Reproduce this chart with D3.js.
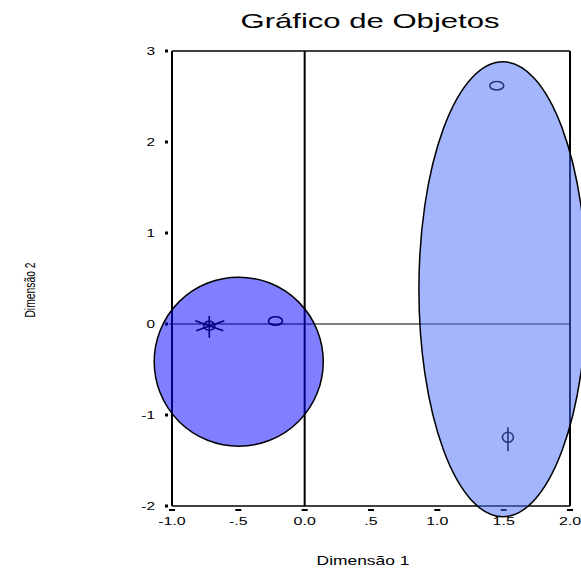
<!DOCTYPE html>
<html>
<head>
<meta charset="utf-8">
<script src="https://cdn.jsdelivr.net/npm/d3@7"></script>
<style>
  html, body { margin: 0; padding: 0; background: #fff; }
  svg { display: block; }
  text { font-family: "Liberation Sans", Arial, sans-serif; fill: #000; }
</style>
</head>
<body>
<svg id="chart" width="581" height="570"></svg>
<script>
// Object scores on the two dimensions
const pointX = [1.448, 1.532, -0.719, -0.22];
const pointY = [2.618, -1.245, -0.02, 0.033];
const pointSymbol = ["O", "phi", "star", "O"];

// Group regions (centre and radii, in dimension units)
const groupCx = [-0.497, 1.494];
const groupCy = [-0.414, 0.382];
const groupRx = [0.637, 0.633];
const groupRy = [0.929, 2.5];
const groupFill = ["rgb(0,0,255)", "rgb(70,108,252)"];

const xTicks = [-1.0, -0.5, 0.0, 0.5, 1.0, 1.5, 2.0];
const xTickLabels = ["-1.0", "-.5", "0.0", ".5", "1.0", "1.5", "2.0"];
const yTicks = [3, 2, 1, 0, -1, -2];
const yTickLabels = ["3", "2", "1", "0", "-1", "-2"];

const svg = d3.select("#chart");

const x = d3.scaleLinear().domain([-1, 2]).range([172, 570]);
const y = d3.scaleLinear().domain([-2, 3]).range([506, 51]);

// Text with horizontally widened (or narrowed) glyphs
function wideText(parent, tx, ty, str, size, sx, anchor, rot) {
  return parent.append("text")
    .attr("transform", `translate(${tx},${ty})` + (rot ? ` rotate(${rot})` : "") + ` scale(${sx},1)`)
    .attr("text-anchor", anchor)
    .style("font-size", size + "px")
    .text(str);
}

// Title
wideText(svg, 370, 28, "Gráfico de Objetos", 21, 1.48, "middle");

// Axis titles
wideText(svg, 363, 565, "Dimensão 1", 12, 1.45, "middle");
wideText(svg, 35, 290, "Dimensão 2", 14, 0.74, "middle", -90);

// Frame
const g = svg.append("g");
g.append("line").attr("x1", x(-1)).attr("x2", x(2)).attr("y1", y(3)).attr("y2", y(3))
  .attr("stroke", "#000").attr("stroke-width", 1.5);
g.append("line").attr("x1", x(-1)).attr("x2", x(2)).attr("y1", y(-2)).attr("y2", y(-2))
  .attr("stroke", "#000").attr("stroke-width", 1.5);
g.append("line").attr("x1", x(-1)).attr("x2", x(-1)).attr("y1", y(3)).attr("y2", y(-2))
  .attr("stroke", "#000").attr("stroke-width", 2);
g.append("line").attr("x1", x(2)).attr("x2", x(2)).attr("y1", y(3)).attr("y2", y(-2))
  .attr("stroke", "#000").attr("stroke-width", 2);

// Reference lines at zero
g.append("line").attr("x1", x(0)).attr("x2", x(0)).attr("y1", y(3)).attr("y2", y(-2))
  .attr("stroke", "#000").attr("stroke-width", 2);
g.append("line").attr("x1", x(-1) - 3).attr("x2", x(2)).attr("y1", y(0)).attr("y2", y(0))
  .attr("stroke", "#000").attr("stroke-width", 1);

// Y ticks: small squares left of the frame
g.selectAll(".ytick").data(yTicks).join("rect")
  .attr("x", x(-1) - 7).attr("y", d => y(d) - 1.5)
  .attr("width", 3).attr("height", 3).attr("fill", "#000");
yTicks.forEach((d, i) => wideText(g, x(-1) - 17, y(d) + 4, yTickLabels[i], 11, 1.4, "end"));

// X ticks: short dashes below the frame
g.selectAll(".xtick").data(xTicks).join("rect")
  .attr("x", d => x(d) - 3).attr("y", y(-2) + 3)
  .attr("width", 6).attr("height", 2).attr("fill", "#000");
xTicks.forEach((d, i) => wideText(g, x(d), y(-2) + 19, xTickLabels[i], 11, 1.45, "middle"));

// Point symbols
const pts = g.selectAll(".pt").data(pointX.map((v, i) => ({x: v, y: pointY[i], s: pointSymbol[i]})))
  .join("g")
  .attr("transform", d => `translate(${x(d.x)},${y(d.y)})`);

pts.each(function(d) {
  const p = d3.select(this);
  if (d.s === "O") {
    p.append("ellipse").attr("rx", 7).attr("ry", 4.2)
      .attr("fill", "none").attr("stroke", "#000").attr("stroke-width", 1.6);
  } else if (d.s === "phi") {
    p.append("ellipse").attr("rx", 5.5).attr("ry", 5)
      .attr("fill", "none").attr("stroke", "#000").attr("stroke-width", 1.6);
    p.append("line").attr("x1", 0).attr("x2", 0).attr("y1", -10).attr("y2", 14)
      .attr("stroke", "#000").attr("stroke-width", 1.6);
  } else if (d.s === "star") {
    p.append("ellipse").attr("rx", 5.5).attr("ry", 4.5)
      .attr("fill", "none").attr("stroke", "#000").attr("stroke-width", 1.6);
    p.append("line").attr("x1", 0).attr("x2", 0).attr("y1", -10).attr("y2", 12)
      .attr("stroke", "#000").attr("stroke-width", 1.6);
    p.append("line").attr("x1", -14).attr("x2", 14).attr("y1", -5).attr("y2", 5)
      .attr("stroke", "#000").attr("stroke-width", 1.6);
    p.append("line").attr("x1", -13).attr("x2", 15).attr("y1", 5).attr("y2", -5)
      .attr("stroke", "#000").attr("stroke-width", 1.6);
  }
});

// Translucent group regions over everything
g.selectAll(".region").data(groupCx.map((v, i) => ({cx: v, cy: groupCy[i], rx: groupRx[i], ry: groupRy[i], f: groupFill[i]})))
  .join("ellipse")
  .attr("cx", d => x(d.cx)).attr("cy", d => y(d.cy))
  .attr("rx", d => x(d.rx) - x(0)).attr("ry", d => y(0) - y(d.ry))
  .attr("fill", d => d.f).attr("fill-opacity", 0.5)
  .attr("stroke", "#000").attr("stroke-width", 1.5);
</script>
</body>
</html>
